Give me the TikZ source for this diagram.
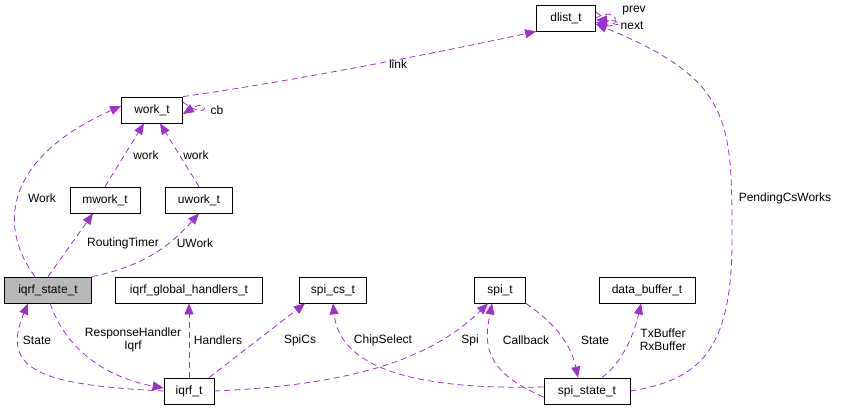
\documentclass[tikz,border=0pt]{standalone}
\usepackage{fontspec}
\setmainfont{Liberation Sans}
\usetikzlibrary{arrows.meta}
\definecolor{edgec}{HTML}{9A32CD}
\tikzset{
  cls/.style={draw,thick,fill=white,minimum height=26pt,inner xsep=5pt,font=\fontsize{12}{13}\selectfont},
  rel/.style={edgec,thick,dash pattern=on 6pt off 4pt,-{Triangle[length=11pt,width=9pt]}},
  lbl/.style={font=\fontsize{12}{13}\selectfont,align=center}
}
\begin{document}
\begin{tikzpicture}[x=1pt,y=-1pt]
        \useasboundingbox (0,0) rectangle (842,412);
        % classes
        \node[cls,minimum width=59pt] (dlist) at (566,18) {dlist\_t};
        \node[cls,minimum width=61pt] (work) at (152,110) {work\_t};
        \node[cls,minimum width=70pt] (mwork) at (105,200) {mwork\_t};
        \node[cls,minimum width=67pt] (uwork) at (199,200) {uwork\_t};
        \node[cls,minimum width=87pt,fill=gray!55] (state) at (48,290) {iqrf\_state\_t};
        \node[cls,minimum width=147pt] (handlers) at (189,290) {iqrf\_global\_handlers\_t};
        \node[cls,minimum width=67pt] (spics) at (333,290) {spi\_cs\_t};
        \node[cls,minimum width=51pt] (spi) at (500,290) {spi\_t};
        \node[cls,minimum width=96pt] (buf) at (647,290) {data\_buffer\_t};
        \node[cls,minimum width=50pt] (iqrf) at (189,391) {iqrf\_t};
        \node[cls,minimum width=86pt] (spistate) at (587,391) {spi\_state\_t};
        % top part
        \draw[rel] (work.north east) ..controls (300,80) and (450,50) .. (dlist.south west);
        \draw[rel] (dlist.east) ..controls (620,5) and (620,30) .. ([yshift=-4pt]dlist.east);
        \draw[rel] ([yshift=6pt]dlist.east) ..controls (625,35) and (625,20) .. ([yshift=-2pt]dlist.east);
        \draw[rel] ([yshift=8pt]work.east) ..controls (210,123) and (210,97) .. ([yshift=-4pt]work.east);
        \draw[rel] (mwork.north) -- ([xshift=-8pt]work.south);
        \draw[rel] (uwork.north) -- ([xshift=8pt]work.south);
        \draw[rel] ([xshift=-13pt]state.north) ..controls (0,230) and (0,160) .. ([yshift=4pt]work.west);
        \draw[rel] (state.north) -- ([xshift=-12pt]mwork.south);
        \draw[rel] (state.north east) ..controls (150,265) and (175,240) .. (uwork.south);
        \draw   (398,64) node[lbl] {link}
                (634,11) node[lbl] {prev}
                (632,26) node[lbl] {next}
                (217,110) node[lbl] {cb}
                (146,155) node[lbl] {work}
                (196,155) node[lbl] {work}
                (42,198) node[lbl] {Work}
                (123,243) node[lbl] {RoutingTimer}
                (195,243) node[lbl] {UWork};
        % lower part
        \draw[rel] (iqrf.west) ..controls (40,385) and (0,370) .. ([xshift=-20pt]state.south);
        \draw[rel] ([xshift=2pt]state.south) ..controls (70,360) and (120,380) .. ([yshift=3pt]iqrf.west);
        \draw[rel] (iqrf.north) -- (handlers.south);
        \draw[rel] ([xshift=20pt]iqrf.north) -- ([xshift=-28pt]spics.south);
        \draw[rel] (iqrf.east) ..controls (350,385) and (430,360) .. ([xshift=-12pt]spi.south);
        \draw[rel] ([yshift=4pt]spistate.west) ..controls (420,390) and (340,370) .. (spics.south);
        \draw[rel] ([yshift=-6pt]spistate.west) ..controls (480,370) and (485,340) .. ([xshift=-8pt]spi.south);
        \draw[rel] (spi.south east) ..controls (550,320) and (570,340) .. ([xshift=-9pt]spistate.north);
        \draw[rel] ([xshift=15pt]spistate.north) ..controls (625,360) and (635,330) .. ([xshift=-6pt]buf.south);
        \draw[rel] (spistate.east) ..controls (700,380) and (732,350) .. (732,240)
                   ..controls (732,120) and (732,80) .. ([yshift=-6pt]dlist.east);
        \draw   (37,340) node[lbl] {State}
                (133,340) node[lbl] {ResponseHandler\\Iqrf}
                (218,340) node[lbl] {Handlers}
                (300,340) node[lbl] {SpiCs}
                (383,340) node[lbl] {ChipSelect}
                (470,340) node[lbl] {Spi}
                (526,340) node[lbl] {Callback}
                (595,340) node[lbl] {State}
                (663,340) node[lbl] {TxBuffer\\RxBuffer}
                (785,198) node[lbl] {PendingCsWorks};
\end{tikzpicture}
\end{document}
